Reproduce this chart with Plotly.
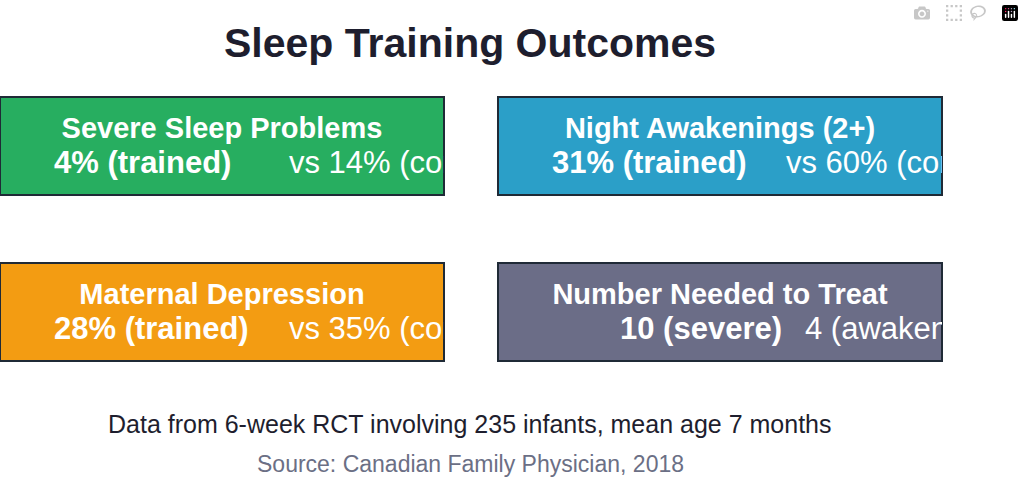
import plotly.graph_objects as go

titles = ["Severe Sleep Problems", "Night Awakenings (2+)", "Maternal Depression", "Number Needed to Treat"]
bold_parts = ["4% (trained)", "31% (trained)", "28% (trained)", "10 (severe)"]
normal_parts = ["vs 14% (control)", "vs 60% (control)", "vs 35% (control)", "4 (awakenings)"]
colors = ["#27ae60", "#2b9fc8", "#f39c12", "#6b6d87"]
bold_x = [54, 54, 54, 122]
normal_x = [289, 288, 289, 307]
# box pixel rects: x0, x1, y0, y1
boxes = [(0, 444, 97, 195), (498, 942, 97, 195), (0, 444, 263, 361), (498, 942, 263, 361)]

W, H = 1024, 494
FONT = "Liberation Sans, Arial, sans-serif"
fig = go.Figure()
for i, (x0, x1, y0, y1) in enumerate(boxes):
    k = "" if i == 0 else str(i + 1)
    w, h = x1 - x0, y1 - y0
    fig.update_layout(**{
        f"xaxis{k}": dict(domain=[x0 / W, x1 / W], range=[0, w], visible=False, fixedrange=True),
        f"yaxis{k}": dict(domain=[1 - y1 / H, 1 - y0 / H], range=[h, 0], visible=False, fixedrange=True),
    })
    fig.add_shape(type="rect", xref=f"x{k} domain", yref=f"y{k} domain", x0=0, x1=1, y0=0, y1=1,
                  fillcolor=colors[i], line=dict(color="#1f2a36", width=2), layer="below")
    fig.add_trace(go.Scatter(x=[w / 2], y=[34], mode="text", text=[f"<b>{titles[i]}</b>"],
                             textposition="middle center", cliponaxis=True,
                             textfont=dict(size=29, color="white", family=FONT),
                             xaxis=f"x{k}", yaxis=f"y{k}", showlegend=False, hoverinfo="skip"))
    fig.add_trace(go.Scatter(x=[bold_x[i]], y=[68], mode="text", text=[f"<b>{bold_parts[i]}</b>"],
                             textposition="middle right", cliponaxis=True,
                             textfont=dict(size=31, color="white", family=FONT),
                             xaxis=f"x{k}", yaxis=f"y{k}", showlegend=False, hoverinfo="skip"))
    fig.add_trace(go.Scatter(x=[normal_x[i]], y=[68], mode="text", text=[normal_parts[i]],
                             textposition="middle right", cliponaxis=True,
                             textfont=dict(size=31, color="white", family=FONT),
                             xaxis=f"x{k}", yaxis=f"y{k}", showlegend=False, hoverinfo="skip"))

fig.add_annotation(x=470 / W, y=1 - 18 / H, xref="paper", yref="paper", showarrow=False,
                   text="<b>Sleep Training Outcomes</b>", font=dict(size=41, color="#1e1e2e", family=FONT))
fig.add_annotation(x=470 / W, y=1 - 440 / H, xref="paper", yref="paper", showarrow=False,
                   text="Data from 6-week RCT involving 235 infants, mean age 7 months",
                   font=dict(size=25, color="#1e1e2e", family=FONT))
fig.add_annotation(x=470 / W, y=1 - 479 / H, xref="paper", yref="paper", showarrow=False,
                   text="Source: Canadian Family Physician, 2018",
                   font=dict(size=23, color="#6b6f85", family=FONT))

fig.update_layout(width=W, height=H, margin=dict(l=0, r=0, t=0, b=0),
                  paper_bgcolor="white", plot_bgcolor="rgba(0,0,0,0)")
fig.write_html("out.html", post_script="document.body.style.margin='0';")
